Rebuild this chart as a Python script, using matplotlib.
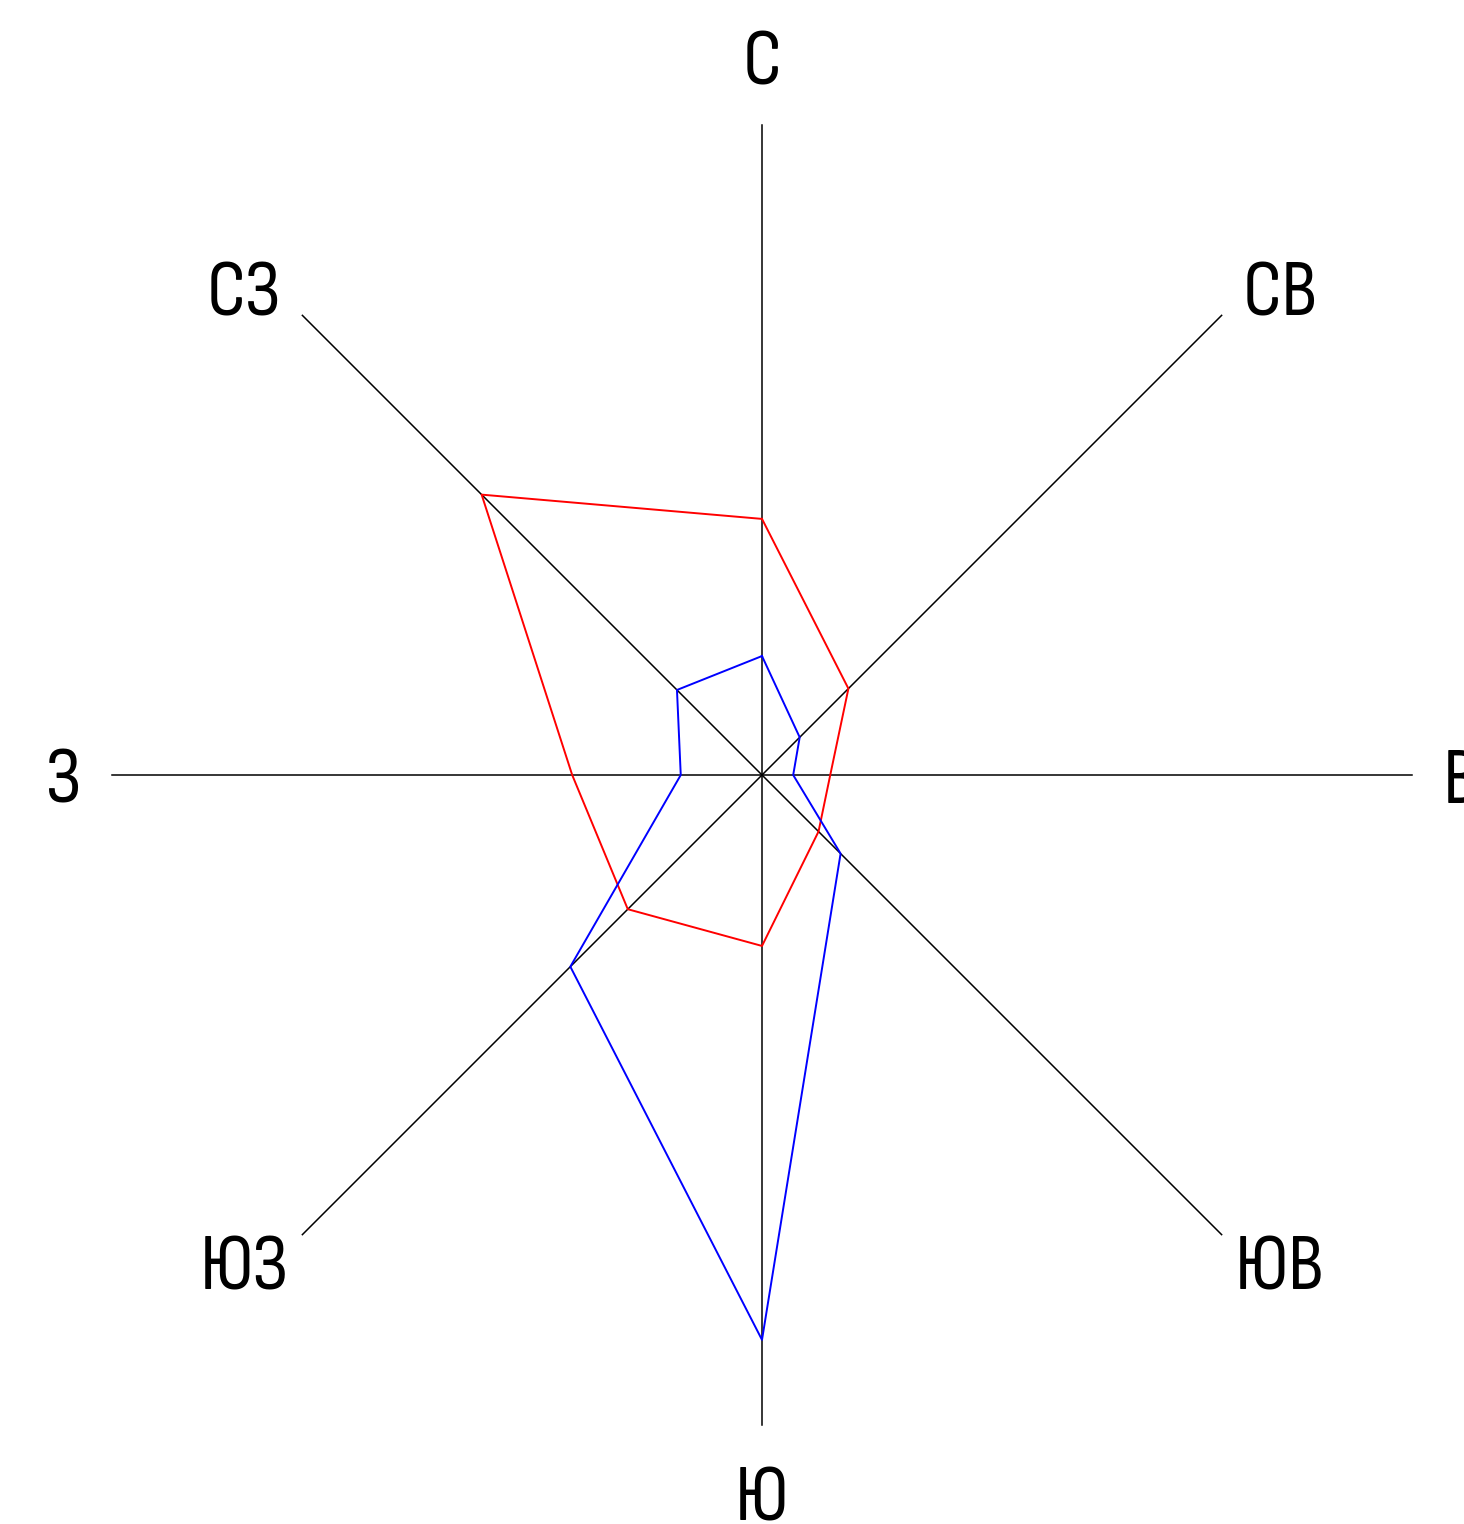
import numpy as np
import matplotlib
matplotlib.use("Agg")
import matplotlib.pyplot as plt

# румбы (по часовой стрелке от севера)
directions = ["С", "СВ", "В", "ЮВ", "Ю", "ЮЗ", "З", "СЗ"]
red_values = [3.94, 1.88, 1.05, 1.23, 2.63, 2.92, 2.92, 6.10]
blue_values = [1.83, 0.82, 0.48, 1.71, 8.69, 4.17, 1.25, 1.85]
axis_length = 10.0

plt.rcParams['font.family'] = ['Sofia Sans Condensed', 'DejaVu Sans']

W, H, dpi = 1464, 1524, 100
px = 65.0  # пикселей на единицу
cx, cy = 762, 1524 - 775

fig = plt.figure(figsize=(W / dpi, H / dpi), dpi=dpi)
ax = fig.add_axes([0, 0, 1, 1])
ax.set_xlim(-cx / px, (W - cx) / px)
ax.set_ylim(-cy / px, (H - cy) / px)
ax.set_aspect('equal')
ax.axis('off')

ang = np.pi / 2 - np.arange(len(directions)) * np.pi / 4

for a in ang:
    ax.plot([0, axis_length * np.cos(a)], [0, axis_length * np.sin(a)],
            color='black', lw=1.1)


def rose(values, color):
    r = np.array(values + values[:1])
    a = np.append(ang, ang[0])
    ax.plot(r * np.cos(a), r * np.sin(a), color=color, lw=1.4)


rose(red_values, 'red')
rose(blue_values, 'blue')

for a, name in zip(ang, directions):
    label_r = 10.9 - 0.15 * np.cos(2 * a)
    k = np.sin(2 * a) ** 2
    lx = label_r * np.cos(a) * (1 + 0.034 * k)
    ly = label_r * np.sin(a) * (1 - 0.028 * k)
    ax.text(lx, ly, name, ha='center', va='center_baseline',
            fontsize=58, fontweight='medium', color='black')

fig.savefig('out.png', dpi=dpi)
